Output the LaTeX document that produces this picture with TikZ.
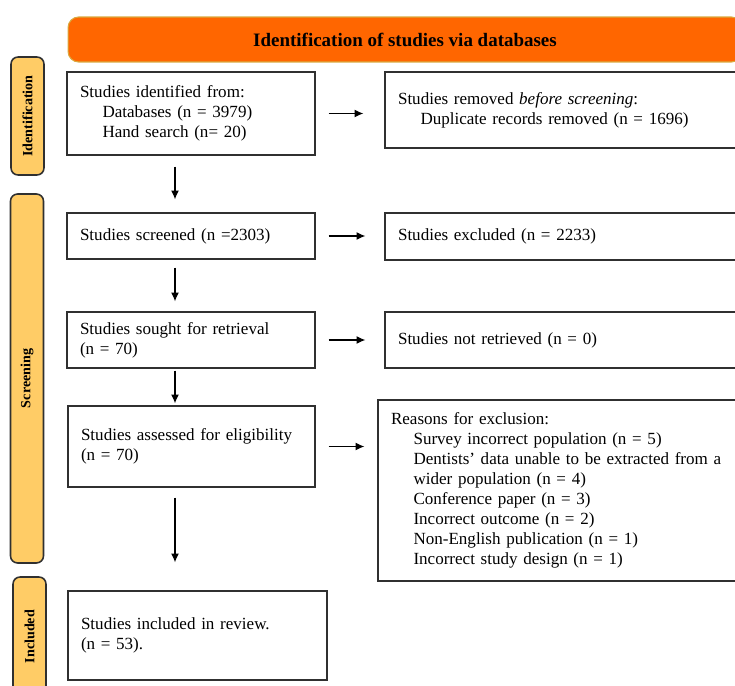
\documentclass[tikz,border=0pt]{standalone}
\usepackage{fontspec}
\setmainfont{Liberation Serif}
\usetikzlibrary{arrows.meta}
\definecolor{bannerorange}{HTML}{FF6600}
\definecolor{bannerline}{HTML}{D9A93F}
\definecolor{sidefill}{HTML}{FFCC66}
\definecolor{boxline}{HTML}{303030}
\newcommand\tabin{\hspace*{0.45cm}}
\tikzset{
  flowbox/.style={draw=boxline, line width=0.8pt, inner xsep=0.26cm, inner ysep=0pt,
    align=left, font=\fontsize{9.7}{11.4}\selectfont},
  sidebox/.style={draw=boxline, line width=0.9pt, fill=sidefill, rounded corners=4pt,
    rotate=90, minimum height=0.66cm, font=\fontsize{8}{9}\selectfont\bfseries},
  bannerbox/.style={draw=bannerline, line width=0.6pt, fill=bannerorange, rounded corners=6pt,
    minimum width=13.48cm, minimum height=0.9cm, font=\fontsize{10.8}{12}\selectfont\bfseries},
  flowarrow/.style={-{Latex[length=5pt,width=4.5pt]}, line width=0.6pt},
}
\begin{document}
\begin{tikzpicture}[x=0.02cm, y=-0.02cm]
\path[use as bounding box, clip] (0,0) rectangle (735,686);
\node[bannerbox] (banner) at (405,39.5) {Identification of studies via databases};
\node[sidebox, minimum width=2.36cm] (labId) at (27.5,116) {Identification};
\node[sidebox, minimum width=7.38cm] (labScr) at (27,378.5) {Screening};
\node[sidebox, minimum width=2.38cm] (labInc) at (29.5,636.5) {Included};
\node[flowbox, text width=4.44cm, minimum height=1.66cm] (ident) at (191,113.5)
  {Studies identified from:\\ \tabin Databases (n = 3979)\\ \tabin Hand search (n= 20)};
\node[flowbox, text width=6.98cm, minimum height=1.52cm] (removed) at (572.5,110)
  {Studies removed \textit{before screening}:\\ \tabin Duplicate records removed (n = 1696)};
\node[flowbox, text width=4.44cm, minimum height=0.92cm] (screened) at (191,236)
  {Studies screened (n =2303)};
\node[flowbox, text width=6.98cm, minimum height=0.94cm] (excluded) at (572.5,236.5)
  {Studies excluded (n = 2233)};
\node[flowbox, text width=4.44cm, minimum height=1.12cm] (sought) at (191,340)
  {Studies sought for retrieval\\ (n = 70)};
\node[flowbox, text width=6.98cm, minimum height=1.12cm] (notretr) at (572.5,340)
  {Studies not retrieved (n = 0)};
\node[flowbox, text width=4.42cm, minimum height=1.62cm] (assessed) at (191.5,446.5)
  {Studies assessed for eligibility\\ (n = 70)};
\node[flowbox, text width=7.12cm, minimum height=3.62cm] (reasons) at (569,490.5)
  {Reasons for exclusion:\\
   \tabin Survey incorrect population (n = 5)\\
   \tabin Dentists’ data unable to be extracted from a\\
   \tabin wider population (n = 4)\\
   \tabin Conference paper (n = 3)\\
   \tabin Incorrect outcome (n = 2)\\
   \tabin Non-English publication (n = 1)\\
   \tabin Incorrect study design (n = 1)};
\node[flowbox, text width=4.66cm, minimum height=1.78cm] (included) at (197.5,635.5)
  {Studies included in review.\\ (n = 53).};
\coordinate (col) at (175,0);
\foreach \a/\b/\s/\t in {ident/screened/0.22cm/0.26cm, screened/sought/0.16cm/0.2cm,
    sought/assessed/0.04cm/0.04cm, assessed/included/0.2cm/0.56cm}
{
\draw[flowarrow, shorten <=\s, shorten >=\t] (\a.south -| col) -- (\b.north -| col);
}
\foreach \a/\b/\t in {ident/removed/0.42cm, screened/excluded/0.38cm,
    sought/notretr/0.38cm, assessed/reasons/0.26cm}
{
\draw[flowarrow, shorten <=0.26cm, shorten >=\t] (\a.east) -- (\a.east -| \b.west);
}
\end{tikzpicture}
\end{document}
